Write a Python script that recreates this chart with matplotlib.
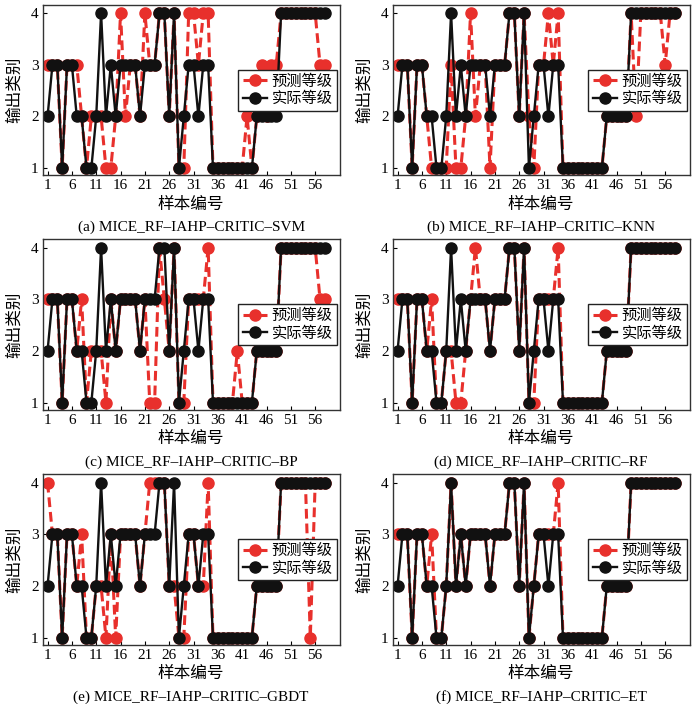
import matplotlib
matplotlib.use('Agg')
import matplotlib.pyplot as plt

# 字体: 数字用衬线体, 中文回退到 Noto Sans CJK
plt.rcParams['font.family'] = ['Liberation Serif', 'Noto Sans CJK SC']
plt.rcParams['font.size'] = 10.5
plt.rcParams['axes.unicode_minus'] = False

# 样本编号 1..58
samples = list(range(1, 59))

# 实际等级
actual = [2, 3, 3, 1, 3, 3, 2, 2, 1, 1,
          2, 4, 2, 3, 2, 3, 3, 3, 3, 2,
          3, 3, 3, 4, 4, 2, 4, 1, 2, 3,
          3, 2, 3, 3, 1, 1, 1, 1, 1, 1,
          1, 1, 1, 2, 2, 2, 2, 2, 4, 4,
          4, 4, 4, 4, 4, 4, 4, 4]

# 各模型预测等级
pred_svm = [3, 3, 3, 1, 3, 3, 3, 2, 1, 2,
            2, 2, 1, 1, 2, 4, 2, 3, 3, 2,
            4, 3, 3, 4, 4, 2, 4, 1, 1, 4,
            4, 3, 4, 4, 1, 1, 1, 1, 1, 1,
            1, 2, 1, 2, 3, 2, 3, 3, 4, 4,
            4, 4, 4, 4, 4, 4, 3, 3]

pred_knn = [3, 3, 3, 1, 3, 3, 2, 1, 1, 1,
            1, 3, 1, 1, 2, 4, 2, 3, 3, 1,
            3, 3, 3, 4, 4, 2, 4, 2, 1, 3,
            3, 4, 3, 4, 1, 1, 1, 1, 1, 1,
            1, 1, 1, 2, 2, 2, 2, 2, 4, 2,
            4, 4, 4, 4, 4, 3, 4, 4]

pred_bp = [3, 3, 3, 1, 3, 3, 2, 3, 1, 2,
           2, 2, 1, 3, 2, 3, 3, 3, 3, 2,
           3, 1, 1, 4, 3, 2, 4, 1, 1, 3,
           3, 3, 3, 4, 1, 1, 1, 1, 1, 2,
           1, 1, 1, 2, 2, 2, 2, 2, 4, 4,
           4, 4, 4, 4, 4, 4, 3, 3]

pred_rf = [3, 3, 3, 1, 3, 3, 2, 3, 1, 1,
           2, 2, 1, 1, 2, 3, 4, 3, 3, 2,
           3, 3, 3, 4, 4, 2, 4, 1, 1, 3,
           3, 3, 3, 4, 1, 1, 1, 1, 1, 1,
           1, 1, 1, 2, 2, 2, 2, 2, 4, 4,
           4, 4, 4, 4, 4, 4, 4, 4]

pred_gbdt = [4, 3, 3, 1, 3, 3, 2, 3, 1, 1,
             2, 2, 1, 3, 1, 3, 3, 3, 3, 2,
             3, 4, 4, 4, 4, 2, 2, 1, 1, 3,
             3, 2, 2, 4, 1, 1, 1, 1, 1, 1,
             1, 1, 1, 2, 2, 2, 2, 2, 4, 4,
             4, 4, 4, 4, 1, 4, 4, 4]

pred_et = [3, 3, 3, 1, 3, 3, 2, 3, 1, 1,
           2, 4, 2, 3, 2, 3, 3, 3, 3, 2,
           3, 3, 3, 4, 4, 2, 4, 1, 2, 3,
           3, 3, 3, 4, 1, 1, 1, 1, 1, 1,
           1, 1, 1, 2, 2, 2, 2, 2, 4, 4,
           4, 4, 4, 4, 4, 4, 4, 4]

preds = [pred_svm, pred_knn, pred_bp, pred_rf, pred_gbdt, pred_et]
captions = ['(a) MICE_RF\u2013IAHP\u2013CRITIC\u2013SVM',
            '(b) MICE_RF\u2013IAHP\u2013CRITIC\u2013KNN',
            '(c) MICE_RF\u2013IAHP\u2013CRITIC\u2013BP',
            '(d) MICE_RF\u2013IAHP\u2013CRITIC\u2013RF',
            '(e) MICE_RF\u2013IAHP\u2013CRITIC\u2013GBDT',
            '(f) MICE_RF\u2013IAHP\u2013CRITIC\u2013ET']

fig = plt.figure(figsize=(7, 7.04), dpi=100)

lefts = [0.061, 0.561]
bottoms = [0.751, 0.418, 0.084]
w, h = 0.424, 0.242

for i, (pred, cap) in enumerate(zip(preds, captions)):
    ax = fig.add_axes([lefts[i % 2], bottoms[i // 2], w, h])
    ax.plot(samples, pred, color='#e8302c', ls='--', dashes=(3.2, 1.6), lw=2.2,
            marker='o', ms=8, label='预测等级')
    ax.plot(samples, actual, color='#111111', lw=1.7,
            marker='o', ms=8, label='实际等级')
    ax.set_xlim(0, 61)
    ax.set_ylim(0.86, 4.16)
    ax.set_xticks(range(1, 57, 5))
    ax.set_yticks([1, 2, 3, 4])
    ax.tick_params(direction='in', length=3, labelsize=11, pad=3)
    for sp in ax.spines.values():
        sp.set_color('#333333')
        sp.set_linewidth(1)
    ax.set_xlabel('样本编号', labelpad=3, fontsize=12)
    ax.set_ylabel('输出类别', labelpad=6, fontsize=12)
    ax.legend(loc='center right', fancybox=False, edgecolor='#222222',
              framealpha=1, borderaxespad=0.15, handlelength=1.6,
              handletextpad=0.3, borderpad=0.3, labelspacing=0.2,
              fontsize=11)
    ax.text(0.5, -0.306, cap, transform=ax.transAxes, ha='center',
            va='center', fontsize=11)

fig.savefig('out.png', dpi=100)
